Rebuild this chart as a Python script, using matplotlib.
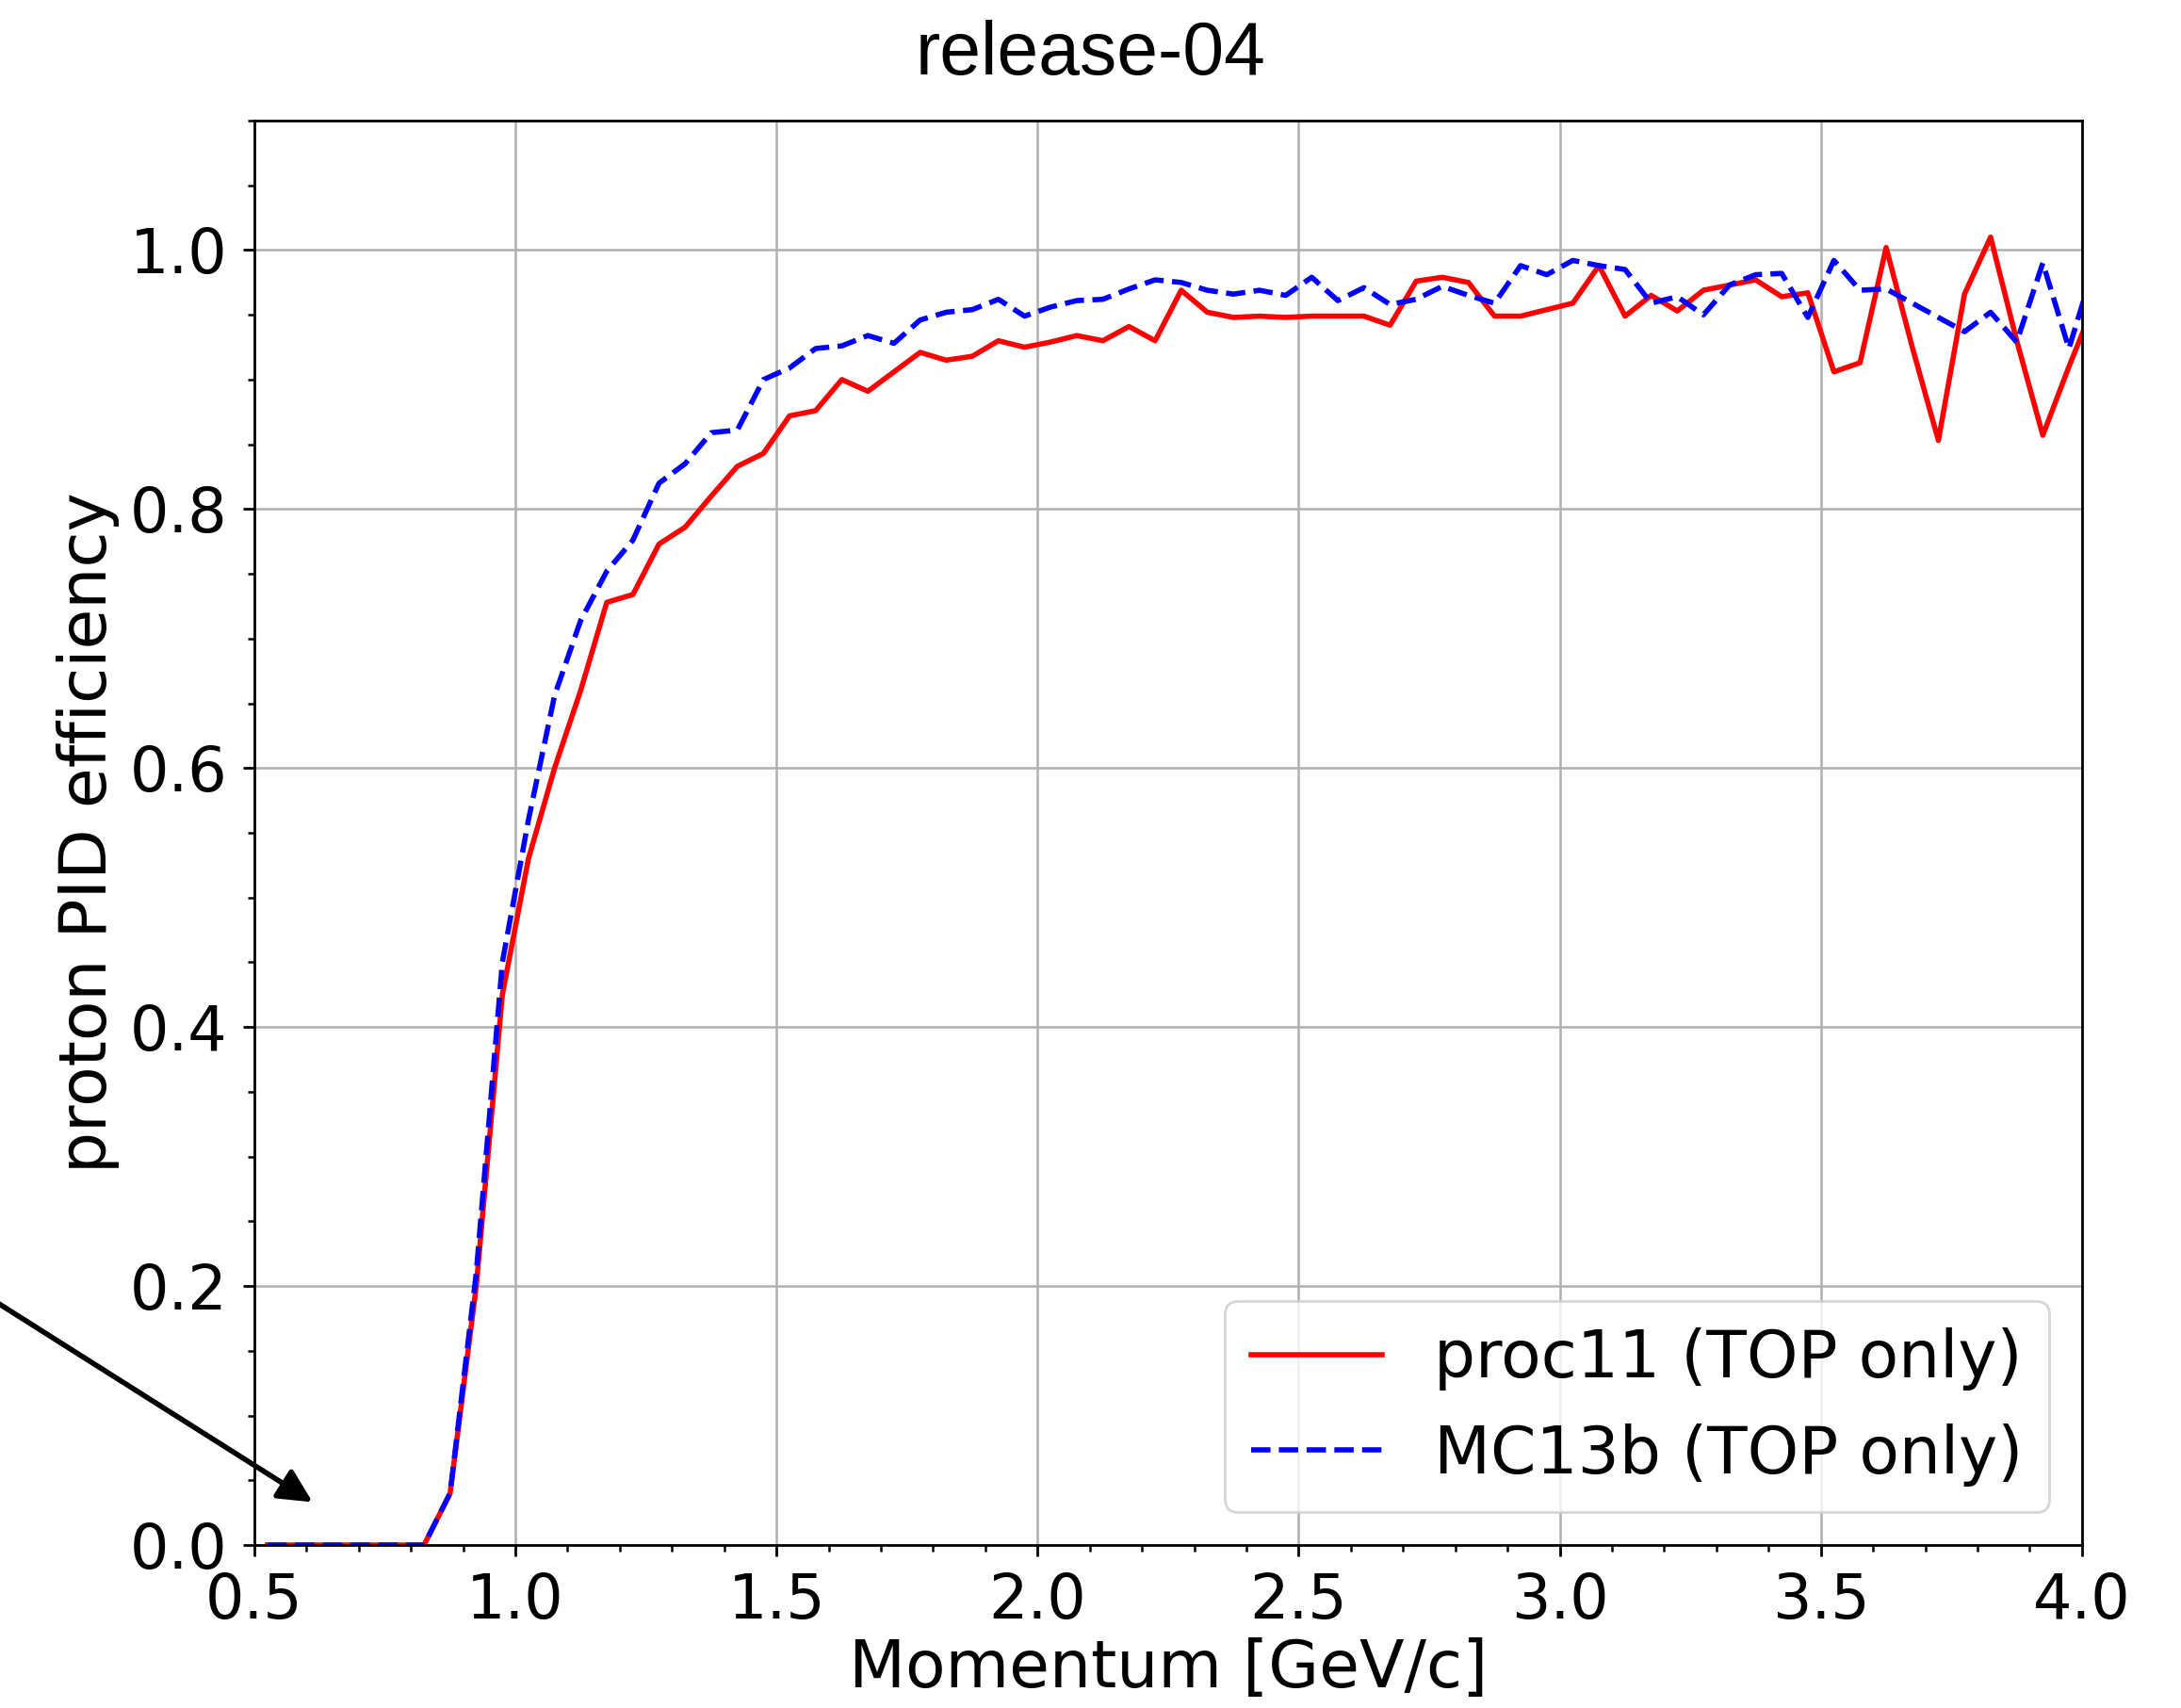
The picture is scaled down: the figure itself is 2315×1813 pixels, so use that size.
"""Proton PID efficiency vs momentum, proc11 vs MC13b (TOP only)."""

import matplotlib

matplotlib.use("Agg")
from matplotlib import pyplot as plt
from matplotlib.ticker import MultipleLocator

# momentum bin centres [GeV/c]
momentum = [
    0.525, 0.575, 0.625, 0.675, 0.725, 0.775, 0.825, 0.875, 0.925, 0.975,
    1.025, 1.075, 1.125, 1.175, 1.225, 1.275, 1.325, 1.375, 1.425, 1.475,
    1.525, 1.575, 1.625, 1.675, 1.725, 1.775, 1.825, 1.875, 1.925, 1.975,
    2.025, 2.075, 2.125, 2.175, 2.225, 2.275, 2.325, 2.375, 2.425, 2.475,
    2.525, 2.575, 2.625, 2.675, 2.725, 2.775, 2.825, 2.875, 2.925, 2.975,
    3.025, 3.075, 3.125, 3.175, 3.225, 3.275, 3.325, 3.375, 3.425, 3.475,
    3.525, 3.575, 3.625, 3.675, 3.725, 3.775, 3.825, 3.875, 3.925, 3.975,
    4.025,
]

eff_proc11 = [
    0.0, 0.0, 0.0, 0.0, 0.0, 0.0, 0.0, 0.040, 0.200, 0.425,
    0.530, 0.600, 0.660, 0.728, 0.734, 0.773, 0.786, 0.810, 0.833, 0.843,
    0.872, 0.876, 0.900, 0.891, 0.906, 0.921, 0.915, 0.918, 0.930, 0.925,
    0.929, 0.934, 0.930, 0.941, 0.930, 0.969, 0.952, 0.948, 0.949, 0.948,
    0.949, 0.949, 0.949, 0.942, 0.976, 0.979, 0.975, 0.949, 0.949, 0.954,
    0.959, 0.988, 0.949, 0.965, 0.953, 0.969, 0.973, 0.977, 0.964, 0.967,
    0.906, 0.913, 1.002, 0.925, 0.853, 0.966, 1.010, 0.930, 0.857, 0.910,
    0.960,
]

eff_mc13b = [
    0.0, 0.0, 0.0, 0.0, 0.0, 0.0, 0.0, 0.040, 0.210, 0.450,
    0.560, 0.656, 0.714, 0.752, 0.776, 0.820, 0.835, 0.859, 0.861, 0.900,
    0.909, 0.924, 0.926, 0.934, 0.928, 0.946, 0.952, 0.954, 0.962, 0.949,
    0.956, 0.961, 0.962, 0.970, 0.977, 0.975, 0.969, 0.966, 0.969, 0.965,
    0.979, 0.961, 0.971, 0.958, 0.962, 0.972, 0.965, 0.959, 0.988, 0.981,
    0.992, 0.988, 0.985, 0.959, 0.964, 0.950, 0.973, 0.981, 0.982, 0.948,
    0.992, 0.969, 0.970, 0.959, 0.948, 0.937, 0.952, 0.929, 0.990, 0.924,
    0.990,
]

fig = plt.figure(figsize=(11.575, 9.065), dpi=200)
ax = fig.add_axes([0.1166, 0.0954, 0.838, 0.834])

ax.plot(momentum, eff_proc11, color="red", lw=2.0, label="proc11 (TOP only)")
ax.plot(momentum, eff_mc13b, color="blue", lw=2.0, ls="--",
        label="MC13b (TOP only)")

ax.set_xlim(0.5, 4.0)
ax.set_ylim(0.0, 1.1)
ax.xaxis.set_major_locator(MultipleLocator(0.5))
ax.xaxis.set_minor_locator(MultipleLocator(0.1))
ax.yaxis.set_major_locator(MultipleLocator(0.2))
ax.yaxis.set_minor_locator(MultipleLocator(0.05))
ax.grid(True, which="major", color="#b0b0b0", lw=0.9)
ax.tick_params(which="major", length=4.2, width=1.0, labelsize=23.5, pad=6)
ax.tick_params(which="minor", length=2.5, width=0.9)
for spine in ax.spines.values():
    spine.set_linewidth(1.0)

ax.set_xlabel("Momentum [GeV/c]", fontsize=25, labelpad=2)
ax.set_ylabel("proton PID efficiency", fontsize=25)
ax.legend(loc="lower right", fontsize=25)

# arrow coming in from outside the left edge
ax.annotate("", xy=(0.62, 0.031), xytext=(-0.17, 0.2325),
            arrowprops=dict(arrowstyle="-|>", color="black", lw=2.0,
                            mutation_scale=27),
            annotation_clip=False)

fig.text(0.5, 1 - 79 / 1813, "release-04", ha="center", va="baseline",
         fontsize=28.3, family="Liberation Sans")

fig.savefig("out.png", dpi=200)
